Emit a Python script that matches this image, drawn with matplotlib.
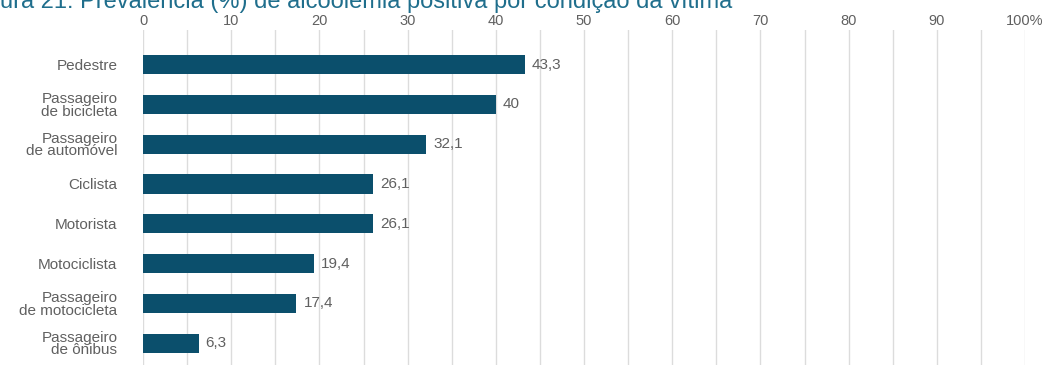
import matplotlib.pyplot as plt
import numpy as np

plt.rcParams['font.family'] = ['Liberation Sans', 'DejaVu Sans']

categorias = ['Pedestre', 'Passageiro\nde bicicleta', 'Passageiro\nde automóvel', 'Ciclista',
              'Motorista', 'Motociclista', 'Passageiro\nde motocicleta', 'Passageiro\nde ônibus']
valores = [43.3, 40, 32.1, 26.1, 26.1, 19.4, 17.4, 6.3]
rotulos = ['43,3', '40', '32,1', '26,1', '26,1', '19,4', '17,4', '6,3']
ticks = [0, 10, 20, 30, 40, 50, 60, 70, 80, 90, 100]
tick_labels = ['0', '10', '20', '30', '40', '50', '60', '70', '80', '90', '100%']

cor_barra = '#0b4f6c'
cinza = '#606060'

fig = plt.figure(figsize=(10.49, 3.70), dpi=100)
ax = fig.add_axes([143 / 1049, 5 / 370, 882 / 1049, 335 / 370])

y = np.arange(len(categorias))
ax.barh(y, valores, height=0.48, color=cor_barra, zorder=3)

for yi, v, r in zip(y, valores, rotulos):
    ax.text(v + 0.8, yi, r, va='center', ha='left', fontsize=11, color=cinza)

# grade vertical a cada 5
for g in np.arange(0, 101, 5):
    ax.axvline(g, color='#dcdcdc', lw=1, zorder=1)

ax.set_xlim(0, 100)
ax.set_ylim(7.55, -0.87)
ax.xaxis.tick_top()
ax.set_xticks(ticks)
ax.set_xticklabels(tick_labels, fontsize=10.5, color=cinza)
ax.tick_params(axis='x', length=0, pad=1.5)
ax.set_yticks(y)
ax.set_yticklabels(categorias, fontsize=11, color=cinza, linespacing=0.88)
ax.tick_params(axis='y', length=0, pad=18.5)
for s in ax.spines.values():
    s.set_visible(False)

fig.text(-0.0313, 1 - 8 / 370, 'Figura 21: Prevalência (%) de alcoolemia positiva por condição da vítima',
         fontsize=17, color='#1f6e8c', ha='left', va='baseline')

fig.savefig('out.png', dpi=100)
